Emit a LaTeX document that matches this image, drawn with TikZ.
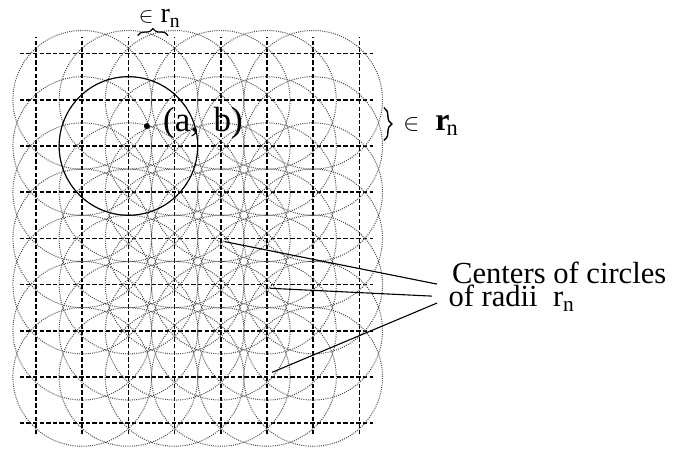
\documentclass[tikz,border=0pt]{standalone}
\usepackage{fontspec}
\setmainfont{Liberation Serif}
\usetikzlibrary{decorations.pathreplacing}
\begin{document}
\begin{tikzpicture}[scale=0.812,
    gridline/.style={line width=0.85pt, dash pattern=on 2.2pt off 1.1pt},
    ringline/.style={black!70, line width=0.5pt, dash pattern=on 0.5pt off 0.6pt},
    pointer/.style={line width=0.55pt}]
    \useasboundingbox (-0.78,-0.63) rectangle (13.94,9.16);
    % Dashed grid
    \foreach \i in {0,...,7}
      \draw[gridline] (\i,-0.24) -- (\i,8.35);
    \foreach \j in {0,...,8}
      \draw[gridline] (-0.35,\j) -- (7.3,\j);
    % Dotted circles round the inner grid points
    \foreach \i in {1,...,6}
      \foreach \j in {1,...,7}
        \draw[ringline] (\i,\j) circle (1.5);
    % Circle holding (a, b)
    \draw[line width=0.55pt] (2,6) circle (1.5);
    \coordinate (pab) at (2.4,6.43);
    \fill (pab) circle (0.065);
    \node[anchor=west, font=\fontsize{17.5}{17.5}\selectfont] (ab) at (2.6,6.5) {(a,\,\ b)};
    % Spacing braces
    \coordinate (bl) at (2.2,8.39);
    \coordinate (br) at (2.86,8.39);
    \draw[line width=0.6pt, decorate, decoration={brace, amplitude=3.5pt}] (bl) -- (br);
    \node[font=\fontsize{14}{14}\selectfont] (toplab) at (2.68,8.76) {{\fontsize{11}{11}\selectfont$\in$} r\textsubscript{n}};
    \coordinate (rt) at (7.53,6.83);
    \coordinate (rb) at (7.53,6.12);
    \draw[line width=0.7pt, decorate, decoration={brace, amplitude=4pt}] (rt) -- (rb);
    \node[anchor=west, font=\fontsize{16}{16}\selectfont] (rlab) at (7.8,6.45) {{\fontsize{13}{13}\selectfont$\in$}\ \ \textbf{r}\kern-1.5pt\textsubscript{n}};
    % Label for the centres
    \node[anchor=base west, inner sep=0pt, font=\fontsize{15.3}{15.3}\selectfont] (ctop) at (9.0,3.02) {Centers of circles};
    \node[anchor=base west, inner sep=0pt, font=\fontsize{15.3}{15.3}\selectfont] (cbot) at (8.92,2.52) {of radii\ \ r\textsubscript{n}};
    \coordinate (c1) at (4.08,3.93);
    \coordinate (c2) at (5.06,2.92);
    \coordinate (c3) at (5.11,1.10);
    \coordinate (t1) at (8.68,3.01);
    \coordinate (t2) at (8.57,2.75);
    \coordinate (t3) at (8.68,2.60);
    \draw[pointer] (c1) -- (t1);
    \draw[pointer] (c2) -- (t2);
    \draw[pointer] (c3) -- (t3);
\end{tikzpicture}
\end{document}
